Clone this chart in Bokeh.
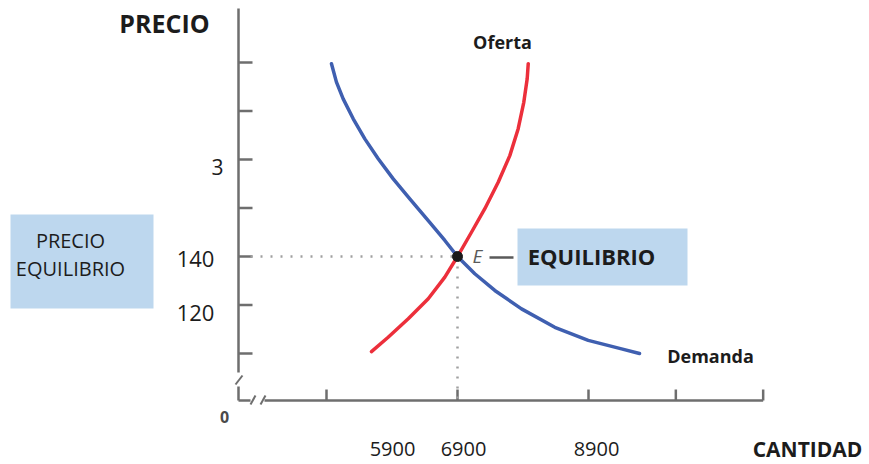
from bokeh.plotting import figure
from bokeh.models import Range1d
from bokeh.core.properties import value
from bokeh.embed import file_html
from bokeh.resources import INLINE

# ---- data (quantity, price) ----
demand_q = [5457, 5514, 5591, 5706, 5839, 5992, 6164, 6354, 6565, 6755, 6900,
            7098, 7327, 7633, 8014, 8397, 8778, 8984]
demand_p = [219.5, 211.9, 205.0, 196.8, 188.5, 180.3, 172.0, 163.8, 154.8, 146.6, 140.0,
            132.9, 126.0, 118.4, 110.8, 105.4, 101.9, 100.0]
supply_q = [5915, 6106, 6336, 6565, 6755, 6900, 7060, 7213, 7366, 7499, 7595, 7659, 7698, 7710]
supply_p = [100.8, 106.7, 114.3, 122.6, 131.5, 140.0, 150.0, 159.7, 170.6, 181.6, 192.7, 203.6, 213.3, 219.5]
eq_q = [6900]
eq_p = [140]
y_ticks = [100, 120, 140, 160, 180, 200, 220]
x_ticks = [5400, 6900, 8400, 9400, 10400]
y_tick_labels = ["3", "140", "120"]
x_tick_labels = ["5900", "6900", "8900"]

# ---- scale set-up (page pixel <-> data) ----
KX = 1500 / 131.0      # quantity units per pixel
KY = 20 / 48.5         # price units per pixel
def X(px):
    return 6900 + (px - 457) * KX
def Y(py):
    return 140 - (py - 256) * KY

W, H = 869, 464
p = figure(width=W, height=H, x_range=Range1d(X(0), X(W)), y_range=Range1d(Y(H), Y(0)),
           output_backend="svg", toolbar_location=None, min_border=0,
           x_axis_type=None, y_axis_type=None)
p.outline_line_color = None
p.background_fill_color = "white"
p.border_fill_color = "white"

AX = "#6e6e6e"
FONT = value("Open Sans")
TXT = "#1c1c1c"

# boxes
p.quad(left=[X(10)], right=[X(153)], top=[Y(214)], bottom=[Y(308)], fill_color="#BDD7EE", line_color=None)
p.quad(left=[X(517)], right=[X(687)], top=[Y(228)], bottom=[Y(285)], fill_color="#BDD7EE", line_color=None)

# axes
y_axis_x = X(238)
y_bottom = Y(400)
p.segment(x0=[y_axis_x], y0=[Y(8)], x1=[y_axis_x], y1=[Y(372)], line_color=AX, line_width=2.5)
p.segment(x0=[X(242)], y0=[Y(375)], x1=[X(235)], y1=[Y(384)], line_color=AX, line_width=2)
p.segment(x0=[y_axis_x], y0=[Y(386)], x1=[y_axis_x], y1=[y_bottom], line_color=AX, line_width=2.5)
p.segment(x0=[y_axis_x], y0=[y_bottom], x1=[X(250)], y1=[y_bottom], line_color=AX, line_width=2.5)
p.segment(x0=[X(250), X(260)], y0=[Y(404), Y(404)], x1=[X(255), X(265)], y1=[Y(395), Y(395)],
          line_color=AX, line_width=2)
p.segment(x0=[X(264)], y0=[y_bottom], x1=[x_ticks[-1]], y1=[y_bottom], line_color=AX, line_width=2.5)

# ticks
p.segment(x0=[y_axis_x] * len(y_ticks), y0=y_ticks, x1=[X(252)] * len(y_ticks), y1=y_ticks,
          line_color=AX, line_width=2.5)
p.segment(x0=x_ticks, y0=[y_bottom] * len(x_ticks), x1=x_ticks, y1=[Y(389)] * len(x_ticks),
          line_color=AX, line_width=2.5)

# dotted guide lines
p.segment(x0=[X(250)], y0=eq_p, x1=eq_q, y1=eq_p, line_color="#a0a0a0", line_width=2.5, line_dash="2 8")
p.segment(x0=eq_q, y0=eq_p, x1=eq_q, y1=[y_bottom], line_color="#a0a0a0", line_width=2.5, line_dash="2 8")

# curves
p.line(demand_q, demand_p, line_color="#3F5FB0", line_width=3.5, line_cap="round", line_join="round")
p.line(supply_q, supply_p, line_color="#EC2F3B", line_width=3.5, line_cap="round", line_join="round")
p.scatter(eq_q, eq_p, size=10, color="#1a1a1a")

# E marker and leader
p.text(x=[X(477)], y=[Y(255)], text=["E"], text_font=FONT, text_font_size="19px", text_font_style="italic",
       text_color="#5a5a5a", text_align="center", text_baseline="middle")
p.segment(x0=[X(489)], y0=[Y(257)], x1=[X(513)], y1=[Y(257)], line_color="#5a5a5a", line_width=2.5)

def label(px, py, s, size, style="normal", color=TXT, align="center"):
    p.text(x=[X(px)], y=[Y(py)], text=[s], text_font=FONT, text_font_size=size, text_font_style=style,
           text_color=color, text_align=align, text_baseline="middle")

label(164, 22, "PRECIO", "25px", "bold")
label(502, 41, "Oferta", "18px", "bold")
label(710, 355, "Demanda", "18px", "bold")
label(217, 166, y_tick_labels[0], "21px")
label(195, 258, y_tick_labels[1], "22px")
label(195, 312, y_tick_labels[2], "22px")
label(224, 416, "0", "16px", "bold", color="#4a4a4a")
label(392, 448, x_tick_labels[0], "20px")
label(463, 448, x_tick_labels[1], "20px")
label(596, 448, x_tick_labels[2], "20px")
label(807, 448, "CANTIDAD", "21px", "bold")
label(70, 240, "PRECIO", "20px")
label(70, 268, "EQUILIBRIO", "20px")
label(591, 255, "EQUILIBRIO", "22px", "bold")

open("out.html", "w").write(file_html(p, INLINE))
